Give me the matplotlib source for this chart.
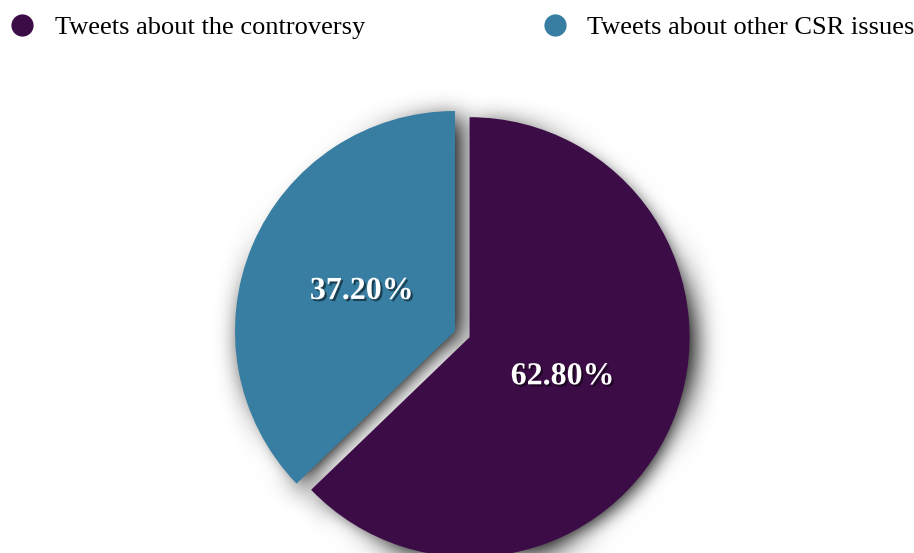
import numpy as np
import matplotlib
matplotlib.use("Agg")
import matplotlib.pyplot as plt
import matplotlib.patheffects as pe
from matplotlib.patches import Wedge
from matplotlib.lines import Line2D

plt.rcParams['font.family'] = ['Liberation Serif', 'DejaVu Serif']

# Дані
labels = ["Tweets about the controversy", "Tweets about other CSR issues"]
shares = [62.8, 37.2]
colors = ["#3c0c47", "#377ea2"]
explode = [0.072, 0.0]


def gauss_blur(sigma_px, pad=50):
    # розмиття тіні (agg_filter)
    k = np.arange(-3 * sigma_px, 3 * sigma_px + 1)
    w = np.exp(-k ** 2 / (2.0 * sigma_px ** 2))
    w /= w.sum()

    def f(im, dpi):
        a = np.pad(im, ((pad, pad), (pad, pad), (0, 0)))
        out = np.zeros_like(a)
        for s, wt in zip(k, w):
            out += wt * np.roll(a, int(s), axis=0)
        out2 = np.zeros_like(a)
        for s, wt in zip(k, w):
            out2 += wt * np.roll(out, int(s), axis=1)
        return out2, -pad, -pad
    return f


fig = plt.figure(figsize=(9.14, 5.53), dpi=100)

R = 220.0  # радіус у пікселях
cx, cy = 455.0, 553.0 - 331.0
lim = 1.3
size = 2 * lim * R
ax = fig.add_axes([(cx - size / 2) / 914, (cy - size / 2) / 553, size / 914, size / 553])

wedges, texts, autotexts = ax.pie(
    shares, colors=colors, explode=explode, startangle=90, counterclock=False,
    autopct='%.2f%%', pctdistance=0.46,
    textprops=dict(color="white", fontsize=23, fontweight="bold"),
    wedgeprops=dict(linewidth=0),
)
ax.set_xlim(-lim, lim)
ax.set_ylim(-lim, lim)
ax.set_aspect("equal")
ax.axis("off")

# Тіні під секторами
for w in wedges:
    w.set_zorder(3)
    c = w.center
    sh = Wedge((c[0] + 0.03, c[1] - 0.03), w.r, w.theta1, w.theta2,
               facecolor="black", alpha=1.0, linewidth=0, zorder=1)
    sh.set_agg_filter(gauss_blur(12))
    ax.add_patch(sh)

for t in autotexts:
    t.set_zorder(5)
    t.set_path_effects([pe.SimplePatchShadow(offset=(1.5, -1.5), shadow_rgbFace="black", alpha=0.5),
                        pe.Normal()])

handles = [Line2D([], [], marker="o", linestyle="none", markersize=16,
                  markerfacecolor=c, markeredgewidth=0) for c in colors]
fig.legend(handles, labels, ncol=2, loc="upper left", bbox_to_anchor=(0.0, 1.0 - 5 / 553),
           frameon=False, fontsize=19, columnspacing=6.74, handletextpad=0.78,
           borderaxespad=0.0, borderpad=0.4, handlelength=0.9)

fig.savefig("out.png", dpi=100)
